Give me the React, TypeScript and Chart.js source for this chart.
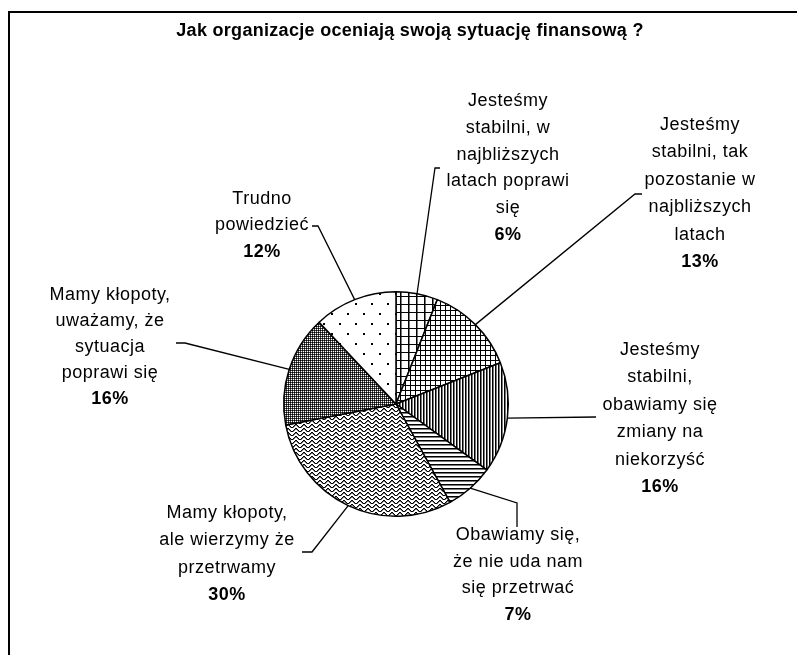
import React, { useEffect, useRef } from "react";
import { Chart, registerables } from "chart.js";

Chart.register(...registerables);

const title = "Jak organizacje oceniają swoją sytuację finansową ?";

const categories = [
  "Jesteśmy stabilni, w najbliższych latach poprawi się",
  "Jesteśmy stabilni, tak pozostanie w najbliższych latach",
  "Jesteśmy stabilni, obawiamy się zmiany na niekorzyść",
  "Obawiamy się, że nie uda nam się przetrwać",
  "Mamy kłopoty, ale wierzymy że przetrwamy",
  "Mamy kłopoty, uważamy, że sytuacja poprawi się",
  "Trudno powiedzieć",
];

const values = [6, 13, 16, 7, 30, 16, 12];

const labelLines = [
  ["Jesteśmy", "stabilni, w", "najbliższych", "latach poprawi", "się"],
  ["Jesteśmy", "stabilni, tak", "pozostanie w", "najbliższych", "latach"],
  ["Jesteśmy", "stabilni,", "obawiamy się", "zmiany na", "niekorzyść"],
  ["Obawiamy się,", "że nie uda nam", "się przetrwać"],
  ["Mamy kłopoty,", "ale wierzymy że", "przetrwamy"],
  ["Mamy kłopoty,", "uważamy, że", "sytuacja", "poprawi się"],
  ["Trudno", "powiedzieć"],
];

// layout: label block centre x and first-line y
const labelPos = [
  { x: 508, y: 101, lh: 26.8 },
  { x: 700, y: 125, lh: 27.4 },
  { x: 660, y: 350, lh: 27.4 },
  { x: 518, y: 535, lh: 26.7 },
  { x: 227, y: 513, lh: 27.3 },
  { x: 110, y: 295, lh: 26 },
  { x: 262, y: 199, lh: 26.5 },
];

// layout: leader line points from label side towards the slice
const leaderPts: number[][][] = [
  [[440, 168], [435, 168]],
  [[642, 194], [635, 194]],
  [[596, 417]],
  [[517, 527], [517, 503]],
  [[302, 552], [312, 552]],
  [[176, 343], [185, 343]],
  [[312, 226], [318, 226]],
];

function tile(rows: string[]): CanvasPattern | string {
  const c = document.createElement("canvas");
  c.width = rows[0].length;
  c.height = rows.length;
  const g = c.getContext("2d")!;
  g.fillStyle = "#fff";
  g.fillRect(0, 0, c.width, c.height);
  rows.forEach((r, y) => {
    for (let x = 0; x < r.length; x++) {
      const ch = r[x];
      if (ch === "#") g.fillStyle = "#000";
      else if (ch === "g") g.fillStyle = "#777";
      else if (ch === "d") g.fillStyle = "#444";
      else continue;
      g.fillRect(x, y, 1, 1);
    }
  });
  const p = g.createPattern(c, "repeat");
  return p || "#ccc";
}

function dots(): CanvasPattern | string {
  const c = document.createElement("canvas");
  c.width = 16;
  c.height = 20;
  const g = c.getContext("2d")!;
  g.fillStyle = "#fff";
  g.fillRect(0, 0, 16, 20);
  g.fillStyle = "#000";
  g.fillRect(3, 3, 2, 2);
  g.fillRect(11, 13, 2, 2);
  return g.createPattern(c, "repeat") || "#eee";
}

export default function App() {
  const ref = useRef<HTMLCanvasElement>(null);

  useEffect(() => {
    const canvas = ref.current!;
    const patterns = [
      tile([
        "########",
        "#g......",
        "#g......",
        "#g......",
        "#g......",
        "#g......",
        "#g......",
        "#g......",
      ]),
      tile(["#####", "#....", "#....", "#....", "#...."]),
      tile(["#g."]),
      tile(["#", "g", ".", "."]),
      tile(["#......#", "g#....#g", ".g#..#g.", "..g##g.."]),
      tile(["#d", "d."]),
      dots(),
    ];

    const FONT = '"Liberation Sans", Arial, sans-serif';

    const decor = {
      id: "decor",
      beforeDraw(chart: any) {
        const ctx = chart.ctx;
        ctx.save();
        ctx.fillStyle = "#fff";
        ctx.fillRect(0, 0, chart.width, chart.height);
        ctx.strokeStyle = "#000";
        ctx.lineWidth = 2;
        ctx.beginPath();
        ctx.moveTo(9, 700);
        ctx.lineTo(9, 12);
        ctx.lineTo(820, 12);
        ctx.stroke();
        ctx.fillStyle = "#000";
        ctx.font = `bold 18px ${FONT}`;
        ctx.textAlign = "center";
        ctx.textBaseline = "middle";
        (ctx as any).letterSpacing = "0.3px";
        ctx.fillText(title, 410, 31);
        (ctx as any).letterSpacing = "0px";
        ctx.restore();
      },
      afterDatasetsDraw(chart: any) {
        const ctx = chart.ctx;
        const meta = chart.getDatasetMeta(0);
        ctx.save();
        ctx.strokeStyle = "#000";
        ctx.lineWidth = 1.3;
        meta.data.forEach((arc: any, i: number) => {
          const { x, y, startAngle, endAngle, outerRadius } = arc.getProps(
            ["x", "y", "startAngle", "endAngle", "outerRadius"],
            true
          );
          const mid = (startAngle + endAngle) / 2;
          const px = x + Math.cos(mid) * outerRadius;
          const py = y + Math.sin(mid) * outerRadius;
          const pts = leaderPts[i];
          ctx.beginPath();
          ctx.moveTo(pts[0][0], pts[0][1]);
          for (let k = 1; k < pts.length; k++) ctx.lineTo(pts[k][0], pts[k][1]);
          ctx.lineTo(px, py);
          ctx.stroke();

          const pos = labelPos[i];
          ctx.fillStyle = "#000";
          ctx.textAlign = "center";
          ctx.textBaseline = "middle";
          (ctx as any).letterSpacing = "0.5px";
          ctx.font = `18px ${FONT}`;
          const lines = labelLines[i];
          lines.forEach((t, k) => ctx.fillText(t, pos.x, pos.y + k * pos.lh));
          ctx.font = `bold 18px ${FONT}`;
          ctx.fillText(`${values[i]}%`, pos.x, pos.y + lines.length * pos.lh);
          (ctx as any).letterSpacing = "0px";
        });
        ctx.restore();
      },
    };

    const chart = new Chart(canvas, {
      type: "pie",
      data: {
        labels: categories,
        datasets: [
          {
            data: values,
            backgroundColor: patterns as any,
            borderColor: "#000",
            borderWidth: 1.5,
          },
        ],
      },
      options: {
        responsive: false,
        animation: false,
        layout: { padding: { left: 283, right: 288, top: 291, bottom: 138 } },
        plugins: {
          legend: { display: false },
          tooltip: { enabled: false },
          title: { display: false },
        },
      },
      plugins: [decor],
    });
    return () => chart.destroy();
  }, []);

  return (
    <div style={{ position: "absolute", left: 0, top: 0, width: 797, height: 655 }}>
      <canvas ref={ref} width={797} height={655} style={{ display: "block" }} />
    </div>
  );
}
